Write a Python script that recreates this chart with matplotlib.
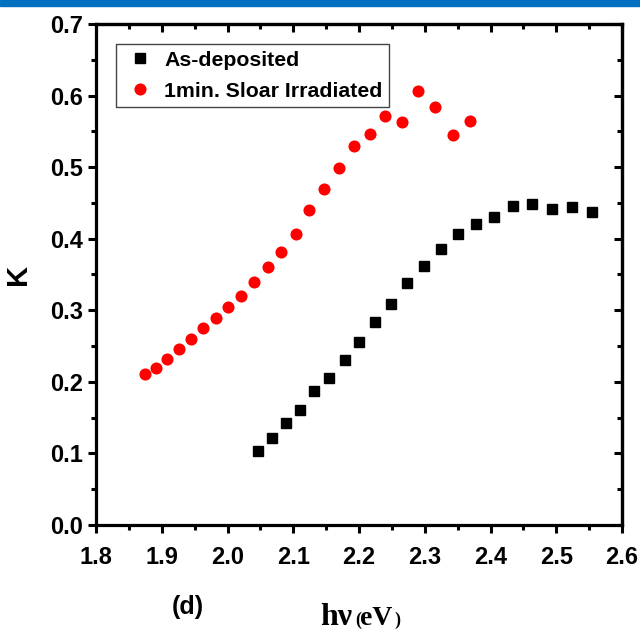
import matplotlib.pyplot as plt
from matplotlib import font_manager as fm
from matplotlib.patches import Rectangle
from matplotlib.ticker import MultipleLocator

# photon energy (eV) and extinction coefficient K
hv_dep = [2.047, 2.067, 2.089, 2.110, 2.132, 2.154, 2.178, 2.200, 2.224, 2.248,
          2.273, 2.299, 2.324, 2.351, 2.378, 2.406, 2.434, 2.463, 2.493, 2.524, 2.554]
k_dep = [0.103, 0.122, 0.142, 0.160, 0.187, 0.206, 0.230, 0.255, 0.284, 0.309,
         0.338, 0.362, 0.386, 0.406, 0.421, 0.431, 0.446, 0.449, 0.441, 0.445, 0.438]

hv_irr = [1.874, 1.891, 1.908, 1.926, 1.944, 1.963, 1.982, 2.001, 2.021, 2.041,
          2.062, 2.082, 2.104, 2.124, 2.147, 2.170, 2.193, 2.217, 2.240, 2.265,
          2.290, 2.316, 2.343, 2.369]
k_irr = [0.211, 0.220, 0.232, 0.246, 0.260, 0.275, 0.289, 0.304, 0.320, 0.339,
         0.360, 0.381, 0.407, 0.440, 0.470, 0.499, 0.530, 0.546, 0.571, 0.563,
         0.607, 0.584, 0.545, 0.564]


def narrow_bold():
    # Liberation Sans Narrow Bold if present, else plain bold sans
    for f in fm.fontManager.ttflist:
        if f.name.startswith('Liberation Sans Narrow'):
            w = f.weight if isinstance(f.weight, int) else (700 if 'bold' in str(f.weight) else 400)
            if w >= 700:
                return fm.FontProperties(fname=f.fname, size=19)
    return fm.FontProperties(family='Liberation Sans', weight='bold', size=17)


W, H = 640, 633
fig = plt.figure(figsize=(W / 100, H / 100), dpi=100)
ax = fig.add_axes([96 / W, 1 - 525 / H, 526 / W, 501 / H])

# blue strip across the top edge
fig.patches.append(Rectangle((0, 1 - 6 / H), 1, 6 / H, transform=fig.transFigure,
                             color='#0070C0', zorder=0))

ax.plot(hv_dep, k_dep, 's', color='black', markersize=6.5, label='As-deposited')
ax.plot(hv_irr, k_irr, 'o', color='#ff0000', markersize=8.7, markeredgewidth=0,
        label='1min. Sloar Irradiated')

ax.set_xlim(1.8, 2.6)
ax.set_ylim(0.0, 0.7)
ax.xaxis.set_major_locator(MultipleLocator(0.1))
ax.xaxis.set_minor_locator(MultipleLocator(0.05))
ax.yaxis.set_major_locator(MultipleLocator(0.1))
ax.yaxis.set_minor_locator(MultipleLocator(0.05))

for s in ax.spines.values():
    s.set_linewidth(2.3)

tick_font = narrow_bold()
ax.tick_params(which='major', direction='out', length=6, width=2.2)
ax.tick_params(which='minor', direction='out', length=3.5, width=2.2)
ax.tick_params(axis='x', which='major', pad=9)
ax.tick_params(axis='y', which='major', pad=3.5)
ax.xaxis.set_major_formatter(lambda v, p: f'{v:.1f}')
ax.yaxis.set_major_formatter(lambda v, p: f'{v:.1f}')
for lab in ax.get_xticklabels() + ax.get_yticklabels():
    lab.set_fontproperties(tick_font)

# inward ticks on top and right
top = ax.secondary_xaxis('top')
right = ax.secondary_yaxis('right')
for sec in (top, right):
    sec.tick_params(which='major', direction='in', length=6, width=2.2)
    sec.tick_params(which='minor', direction='in', length=3.5, width=2.2)
    for s in sec.spines.values():
        s.set_linewidth(2.3)
top.xaxis.set_major_locator(MultipleLocator(0.1))
top.xaxis.set_minor_locator(MultipleLocator(0.05))
right.yaxis.set_major_locator(MultipleLocator(0.1))
right.yaxis.set_minor_locator(MultipleLocator(0.05))
top.set_xticklabels([])
right.set_yticklabels([])

ax.set_ylabel('K', fontsize=21, fontweight='bold', family='Liberation Sans')
ax.yaxis.set_label_coords(-0.122, 0.5)

leg = ax.legend(loc='upper left', bbox_to_anchor=(0.038, 0.96), borderaxespad=0,
                prop=dict(family='Liberation Sans', weight='bold', size=15.3),
                handlelength=1.62, handletextpad=0.32, labelspacing=0.55,
                borderpad=0.32, fancybox=False, framealpha=1)
leg.get_frame().set_edgecolor('#444444')
leg.get_frame().set_linewidth(1.0)

# panel tag and x-axis label
fig.text(188 / W, 1 - 607 / H, '(d)', ha='center', va='center',
         family='Liberation Sans', weight='bold', size=18)
serif = dict(family='Liberation Serif', weight='bold', va='baseline')
base = 1 - 625 / H
fig.text(320 / W, base, 'hν', size=23, **serif)
fig.text(355 / W, base, '(', size=13, **serif)
fig.text(360 / W, base, 'eV', size=20, **serif)
fig.text(394 / W, base, ')', size=13, **serif)

fig.savefig('out.png', dpi=100)
